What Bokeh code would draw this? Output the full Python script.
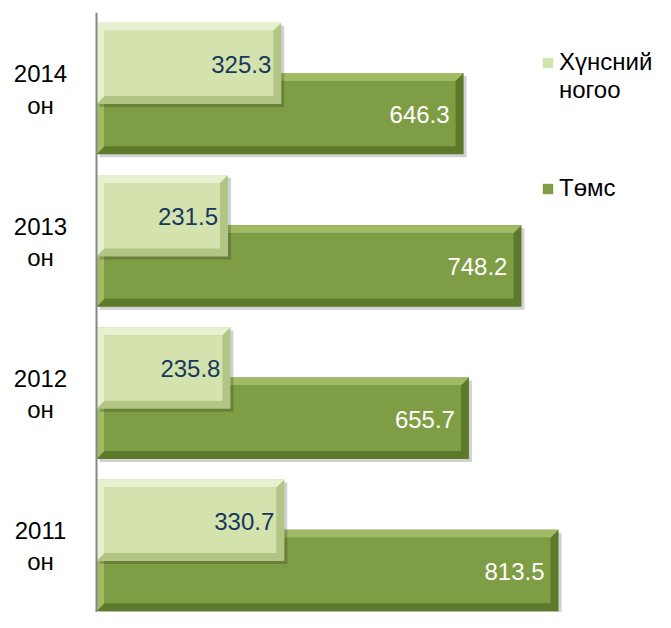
from bokeh.plotting import figure
from bokeh.models import Range1d, Legend, LegendItem, ColumnDataSource, LabelSet, Span
from bokeh.core.properties import value
from bokeh.embed import file_html
from bokeh.resources import INLINE

# ---- data ----
years = ["2011", "2012", "2013", "2014"]
year_labels = ["2011\nон", "2012\nон", "2013\nон", "2014\nон"]
series_names = ["Хүнсний\nногоо", "Төмс"]
vegetables = [330.7, 235.8, 231.5, 325.3]
potatoes = [813.5, 655.7, 748.2, 646.3]

# ---- styling ----
FONT = "Liberation Sans"
LIGHT_FACE, LIGHT_HI, LIGHT_LO = "#d4e3ad", "#e8f1cf", "#b2c585"
DARK_FACE, DARK_HI, DARK_LO = "#7f9d44", "#9fbb63", "#5d7a2a"

W, H = 655, 612
BT = 12
FW, FH = W, H - BT
PX_PER_UNIT = 0.568          # horizontal scale
AXIS_PX = 96                 # where the value axis sits inside the frame
ux = 1 / PX_PER_UNIT
x0 = -AXIS_PX * ux
x1 = x0 + FW * ux
y1, y0 = 3.499, -0.441
uy = (y1 - y0) / FH

pos = list(range(len(years)))
bar_h = 0.535
off = 0.165

p = figure(width=W, height=H, output_backend="svg", toolbar_location=None,
           x_range=Range1d(x0, x1), y_range=Range1d(y0, y1),
           min_border_left=0, min_border_right=0, min_border_top=BT, min_border_bottom=0)
p.outline_line_color = None
p.grid.visible = False
p.xaxis.visible = False
p.yaxis.visible = False
p.background_fill_color = "white"

# value axis line
p.add_layout(Span(location=0, dimension="height", line_color="#868686", line_width=2))


def bevel_bar(values, shift, face, hi, lo):
    bx, by = 8 * ux, 8 * uy
    sx, sy = 3 * ux, 3 * uy
    ys = [y + shift for y in pos]
    bottoms = [y - bar_h / 2 for y in ys]
    tops = [y + bar_h / 2 for y in ys]
    zero = [0] * len(values)
    # shadow
    p.quad(left=[z + sx for z in zero], right=[v + sx for v in values],
           bottom=[b - sy for b in bottoms], top=[t - sy for t in tops],
           fill_color="#000000", fill_alpha=0.18, line_color=None)
    # dark edge base
    p.quad(left=zero, right=values, bottom=bottoms, top=tops,
           fill_color=lo, line_color=None)
    # highlight (top + left bevel)
    xs_hi, ys_hi = [], []
    for v, b, t in zip(values, bottoms, tops):
        xs_hi.append([0, v, v - bx, bx, bx, 0])
        ys_hi.append([t, t, t - by, t - by, b + by, b])
    p.patches(xs_hi, ys_hi, fill_color=hi, line_color=None)
    # face
    r = p.quad(left=[z + bx for z in zero], right=[v - bx for v in values],
               bottom=[b + by for b in bottoms], top=[t - by for t in tops],
               fill_color=face, line_color=None)
    return r, ys


r_dark, ys_dark = bevel_bar(potatoes, -off, DARK_FACE, DARK_HI, DARK_LO)
r_light, ys_light = bevel_bar(vegetables, off, LIGHT_FACE, LIGHT_HI, LIGHT_LO)

src_l = ColumnDataSource(dict(x=vegetables, y=ys_light, t=[f"{v:.1f}" for v in vegetables]))
src_d = ColumnDataSource(dict(x=potatoes, y=ys_dark, t=[f"{v:.1f}" for v in potatoes]))
p.add_layout(LabelSet(x="x", y="y", text="t", source=src_l, x_offset=-10, y_offset=-1,
                      text_align="right", text_baseline="middle", text_color="#17375e",
                      text_font=value(FONT), text_font_size="24px"))
p.add_layout(LabelSet(x="x", y="y", text="t", source=src_d, x_offset=-14, y_offset=-1,
                      text_align="right", text_baseline="middle", text_color="white",
                      text_font=value(FONT), text_font_size="24px"))

# category labels, left of the value axis
lab_x = -(AXIS_PX - 40) * ux
p.text(x=[lab_x] * len(pos), y=pos, text=year_labels, text_align="center",
       text_baseline="middle", text_color="black", text_font=value(FONT),
       text_font_size="24px", text_line_height=1.15, y_offset=1)

# legend: swatch sits beside the first line of a two-line label
veg_lines = series_names[0].split("\n")
r_blank = p.quad(left=[], right=[], bottom=[], top=[], fill_color=None, line_color=None)
common = dict(orientation="vertical", glyph_width=13, glyph_height=13, label_standoff=5,
              padding=0, margin=0, border_line_color=None, background_fill_alpha=0,
              label_text_font=FONT, label_text_font_size="24px",
              label_text_line_height=1.04, label_text_color="black")
legend_a = Legend(items=[LegendItem(label=veg_lines[0], renderers=[r_light]),
                         LegendItem(label=veg_lines[1], renderers=[r_blank])],
                  location=(541, 508), spacing=0, **common)
legend_b = Legend(items=[LegendItem(label=series_names[1], renderers=[r_dark])],
                  location=(541, 410), spacing=0, **common)
p.add_layout(legend_a)
p.add_layout(legend_b)

open("out.html", "w").write(file_html(p, INLINE))
